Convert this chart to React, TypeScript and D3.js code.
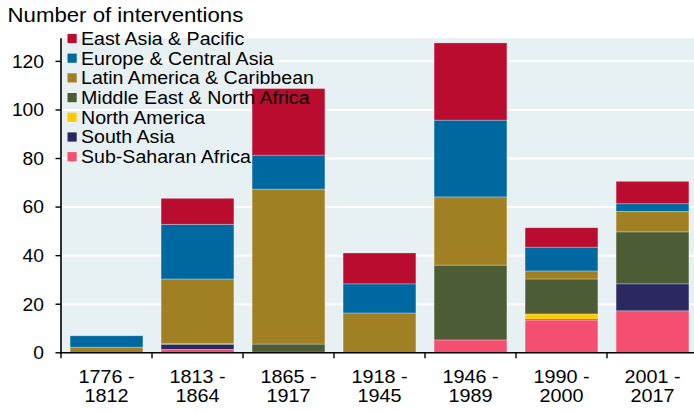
import React from "react";
import * as d3 from "d3";

const categories = ["1776 -|1812", "1813 -|1864", "1865 -|1917", "1918 -|1945", "1946 -|1989", "1990 -|2000", "2001 -|2017"];
const seriesNames = [
  "Sub-Saharan Africa",
  "South Asia",
  "North America",
  "Middle East & North Africa",
  "Latin America & Caribbean",
  "Europe & Central Asia",
  "East Asia & Pacific",
];
const seriesColors = ["#f44f70", "#2a285e", "#fecb00", "#4c5d36", "#a17f23", "#0068a1", "#b90c2f"];
// values per category, order matches seriesNames
const subSaharanAfrica = [0, 1.4, 0.3, 0, 5.3, 13.5, 17.3];
const southAsia = [0, 2.1, 0, 0, 0, 0.4, 11.1];
const northAmerica = [0, 0, 0, 0, 0, 2.1, 0];
const middleEastNorthAfrica = [0, 0.4, 3.3, 0, 30.8, 14.4, 21.4];
const latinAmericaCaribbean = [2.3, 26.5, 63.8, 16.4, 28.1, 3.3, 8.4];
const europeCentralAsia = [4.7, 22.5, 14, 12, 31.6, 9.8, 3.2];
const eastAsiaPacific = [0, 10.7, 27.4, 12.7, 31.8, 8.0, 9.2];
const yTicks = [0, 20, 40, 60, 80, 100, 120];
const legendOrder = [6, 5, 4, 3, 2, 1, 0];

const seriesValues = [
  subSaharanAfrica,
  southAsia,
  northAmerica,
  middleEastNorthAfrica,
  latinAmericaCaribbean,
  europeCentralAsia,
  eastAsiaPacific,
];

const W = 694;
const H = 411;
const SX = 1.1;
const FONT = "'Liberation Sans', Arial, sans-serif";

export default function App() {
  const left = 61;
  const top = 38.3;
  const bottom = 352.8;
  const x = d3.scaleBand<string>().domain(categories).range([left, left + 637]).paddingInner(0.2).paddingOuter(0.1);
  const y = d3.scaleLinear().domain([0, 129.5]).range([bottom, top]);

  const table = categories.map((c, i) => {
    const row: any = { cat: c };
    seriesNames.forEach((s, j) => (row[s] = seriesValues[j][i]));
    return row;
  });
  const stack = d3.stack<any>().keys(seriesNames)(table);

  const boundaries = d3.range(categories.length + 1).map((i) => left + i * x.step());

  return (
    <div style={{ position: "absolute", left: 0, top: 0 }}>
      <svg width={W} height={H} style={{ display: "block" }} fontFamily={FONT}>
        <rect x={0} y={0} width={W} height={H} fill="#ffffff" />
        <rect x={left} y={top} width={W - left} height={bottom - top} fill="#e7f0f3" />
        {yTicks.slice(1).map((t) => (
          <line key={t} x1={left} x2={W} y1={y(t)} y2={y(t)} stroke="#ffffff" strokeWidth={2} />
        ))}
        {stack.map((layer, j) => (
          <g key={layer.key} fill={seriesColors[j]}>
            {layer.map((d, i) =>
              d[1] - d[0] > 0 ? (
                <rect
                  key={i}
                  x={x(categories[i])}
                  width={x.bandwidth()}
                  y={y(d[1])}
                  height={y(d[0]) - y(d[1])}
                  stroke="#ffffff"
                  strokeOpacity={0.35}
                  strokeWidth={0.8}
                />
              ) : null
            )}
          </g>
        ))}
        {/* axes */}
        <line x1={left} x2={left} y1={top} y2={bottom + 0.5} stroke="#000" strokeWidth={1.6} />
        <line x1={left - 0.8} x2={W} y1={bottom} y2={bottom} stroke="#000" strokeWidth={1.6} />
        {yTicks.map((t) => (
          <g key={t}>
            <line x1={left - 5.5} x2={left} y1={y(t)} y2={y(t)} stroke="#000" strokeWidth={1.4} />
            <text
              transform={`translate(${left - 17},${y(t) + 6.3}) scale(${SX},1)`}
              textAnchor="end"
              fontSize={17.5}
              fill="#000"
            >
              {t}
            </text>
          </g>
        ))}
        {boundaries.map((b, i) => (
          <line key={i} x1={b} x2={b} y1={bottom} y2={bottom + 5.5} stroke="#000" strokeWidth={1.4} />
        ))}
        {categories.map((c) => {
          const cx = (x(c) as number) + x.bandwidth() / 2;
          const [l1, l2] = c.split("|");
          return (
            <g key={c}>
              <text transform={`translate(${cx},383.3) scale(${SX},1)`} textAnchor="middle" fontSize={18} fill="#000">
                {l1}
              </text>
              <text transform={`translate(${cx},402) scale(${SX},1)`} textAnchor="middle" fontSize={18} fill="#000">
                {l2}
              </text>
            </g>
          );
        })}
        {/* legend */}
        {legendOrder.map((j, k) => {
          const cy = 38.5 + k * 19.7;
          return (
            <g key={j}>
              <rect x={67.5} y={cy - 4.6} width={9.2} height={9.2} fill={seriesColors[j]} />
              <text transform={`translate(81,${cy + 6.3}) scale(1.12,1)`} fontSize={17.5} fill="#000">
                {seriesNames[j]}
              </text>
            </g>
          );
        })}
        <text transform={`translate(7.5,21.8) scale(1.14,1)`} fontSize={19.5} fill="#000">
          Number of interventions
        </text>
      </svg>
    </div>
  );
}
